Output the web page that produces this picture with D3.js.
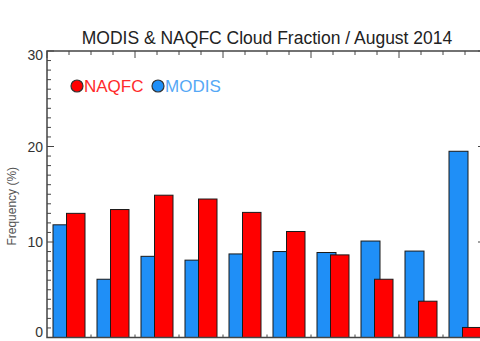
<!DOCTYPE html>
<html>
<head>
<meta charset="utf-8">
<script src="https://cdn.jsdelivr.net/npm/d3@7"></script>
<style>
  body { margin: 0; background: #fff; }
  svg { display: block; font-family: "Liberation Sans", Arial, sans-serif; }
</style>
</head>
<body>
<div id="chart"></div>
<script>
// cloud fraction bins
const categories = ["0.0-0.1", "0.1-0.2", "0.2-0.3", "0.3-0.4", "0.4-0.5",
                    "0.5-0.6", "0.6-0.7", "0.7-0.8", "0.8-0.9", "0.9-1.0"]
const modisValues = [11.8, 6.1, 8.5, 8.1, 8.75, 9.0, 8.9, 10.1, 9.05, 19.5]
const naqfcValues = [13.0, 13.4, 14.9, 14.5, 13.1, 11.1, 8.65, 6.1, 3.8, 1.05]
const yTicks = [0, 10, 20, 30]
const seriesNames = ["MODIS", "NAQFC"]

const mainApp = () => {
    const width = 480
    const height = 341
    const margin = { top: 51, bottom: 3, left: 47, right: -7 }
    const axisColor = "#444"

    const svg = d3.select("#chart").append("svg")
        .attr("width", width)
        .attr("height", height)

    const x = d3.scaleBand()
        .domain(categories)
        .range([margin.left, width - margin.right])
        .padding(0)

    // blue bar sits behind the red one, shifted left
    const xInner = d3.scalePoint()
        .domain(seriesNames)
        .range([6, 19.5])
    const barWidth = { MODIS: 19, NAQFC: 18.5 }
    const colors = d3.scaleOrdinal()
        .domain(seriesNames)
        .range(["#1f8ff7", "#ff0000"])

    const y = d3.scaleLinear()
        .domain([0, 30])
        .range([height - margin.bottom - 0.5, margin.top])

    const data = seriesNames.map(s => ({
        name: s,
        values: (s === "MODIS" ? modisValues : naqfcValues).map((v, i) => ({ cat: categories[i], value: v }))
    }))

    // bars
    data.forEach(s => {
        svg.append("g")
            .selectAll("rect")
            .data(s.values)
            .enter().append("rect")
            .attr("x", d => x(d.cat) + xInner(s.name))
            .attr("y", d => y(d.value))
            .attr("width", barWidth[s.name])
            .attr("height", d => y(0) - y(d.value))
            .attr("fill", colors(s.name))
            .attr("stroke", "#1a1a1a")
            .attr("stroke-width", 1)
    })

    // frame
    const x0 = margin.left, x1 = width - margin.right
    const y0 = y(0), y1 = y(30)
    const frame = svg.append("g").attr("stroke", axisColor).attr("stroke-width", 1.5).attr("fill", "none")
    frame.append("path").attr("d", `M${x0},${y1}V${y0}H${x1}V${y1}Z`)

    // left + right axis ticks
    const minorY = d3.range(0, 31, 1)
    const left = svg.append("g").attr("stroke", axisColor).attr("stroke-width", 1)
    left.selectAll("line").data(minorY).enter().append("line")
        .attr("x1", x0).attr("x2", d => x0 + (d % 10 === 0 ? 7 : 4))
        .attr("y1", d => y(d)).attr("y2", d => y(d))
    const right = svg.append("g").attr("stroke", axisColor).attr("stroke-width", 1)
    right.selectAll("line").data(minorY).enter().append("line")
        .attr("x1", x1).attr("x2", d => x1 - (d % 10 === 0 ? 9 : 4))
        .attr("y1", d => y(d)).attr("y2", d => y(d))

    // labels kept inside the frame vertically
    svg.append("g").selectAll("text").data(yTicks).enter().append("text")
        .attr("x", x0 - 4)
        .attr("y", d => Math.max(60, Math.min(337, y(d) + 5)))
        .attr("text-anchor", "end")
        .attr("font-size", 14)
        .attr("fill", "#333")
        .text(d => d)

    // top axis: cloud fraction ticks
    const xTop = d3.scaleLinear().domain([0, 1]).range([x0, x1])
    const topTicks = d3.range(0, 21).map(i => i / 20)
    svg.append("g").attr("stroke", axisColor).attr("stroke-width", 1)
        .selectAll("line").data(topTicks).enter().append("line")
        .attr("x1", d => xTop(d)).attr("x2", d => xTop(d))
        .attr("y1", y1).attr("y2", (d, i) => y1 + (i % 4 === 0 ? 7 : 4))

    // bottom axis: tiny ticks between bins
    svg.append("g").attr("stroke", axisColor).attr("stroke-width", 1)
        .selectAll("line").data(categories.slice(1)).enter().append("line")
        .attr("x1", d => x(d)).attr("x2", d => x(d))
        .attr("y1", y0).attr("y2", y0 - 3)

    // title
    svg.append("text")
        .attr("x", (x0 + x1) / 2)
        .attr("y", 44)
        .attr("text-anchor", "middle")
        .attr("font-size", 17.5)
        .attr("fill", "#222")
        .text("MODIS & NAQFC Cloud Fraction / August 2014")

    // y label
    svg.append("text")
        .attr("transform", `translate(16,${(y0 + y1) / 2 + 12}) rotate(-90)`)
        .attr("text-anchor", "middle")
        .attr("font-size", 12)
        .attr("fill", "#555")
        .text("Frequency (%)")

    // legend
    const legend = [
        { name: "NAQFC", cx: 77, tx: 84, text: "#ff2a2a" },
        { name: "MODIS", cx: 158, tx: 165, text: "#55a8f5" }
    ]
    const lg = svg.append("g").selectAll("g").data(legend).enter().append("g")
    lg.append("circle")
        .attr("cx", d => d.cx).attr("cy", 86).attr("r", 6)
        .attr("fill", d => colors(d.name))
        .attr("stroke", "#333").attr("stroke-width", 1.2)
    lg.append("text")
        .attr("x", d => d.tx).attr("y", 92)
        .attr("font-size", 17)
        .attr("fill", d => d.text)
        .text(d => d.name)
}

mainApp()
</script>
</body>
</html>
